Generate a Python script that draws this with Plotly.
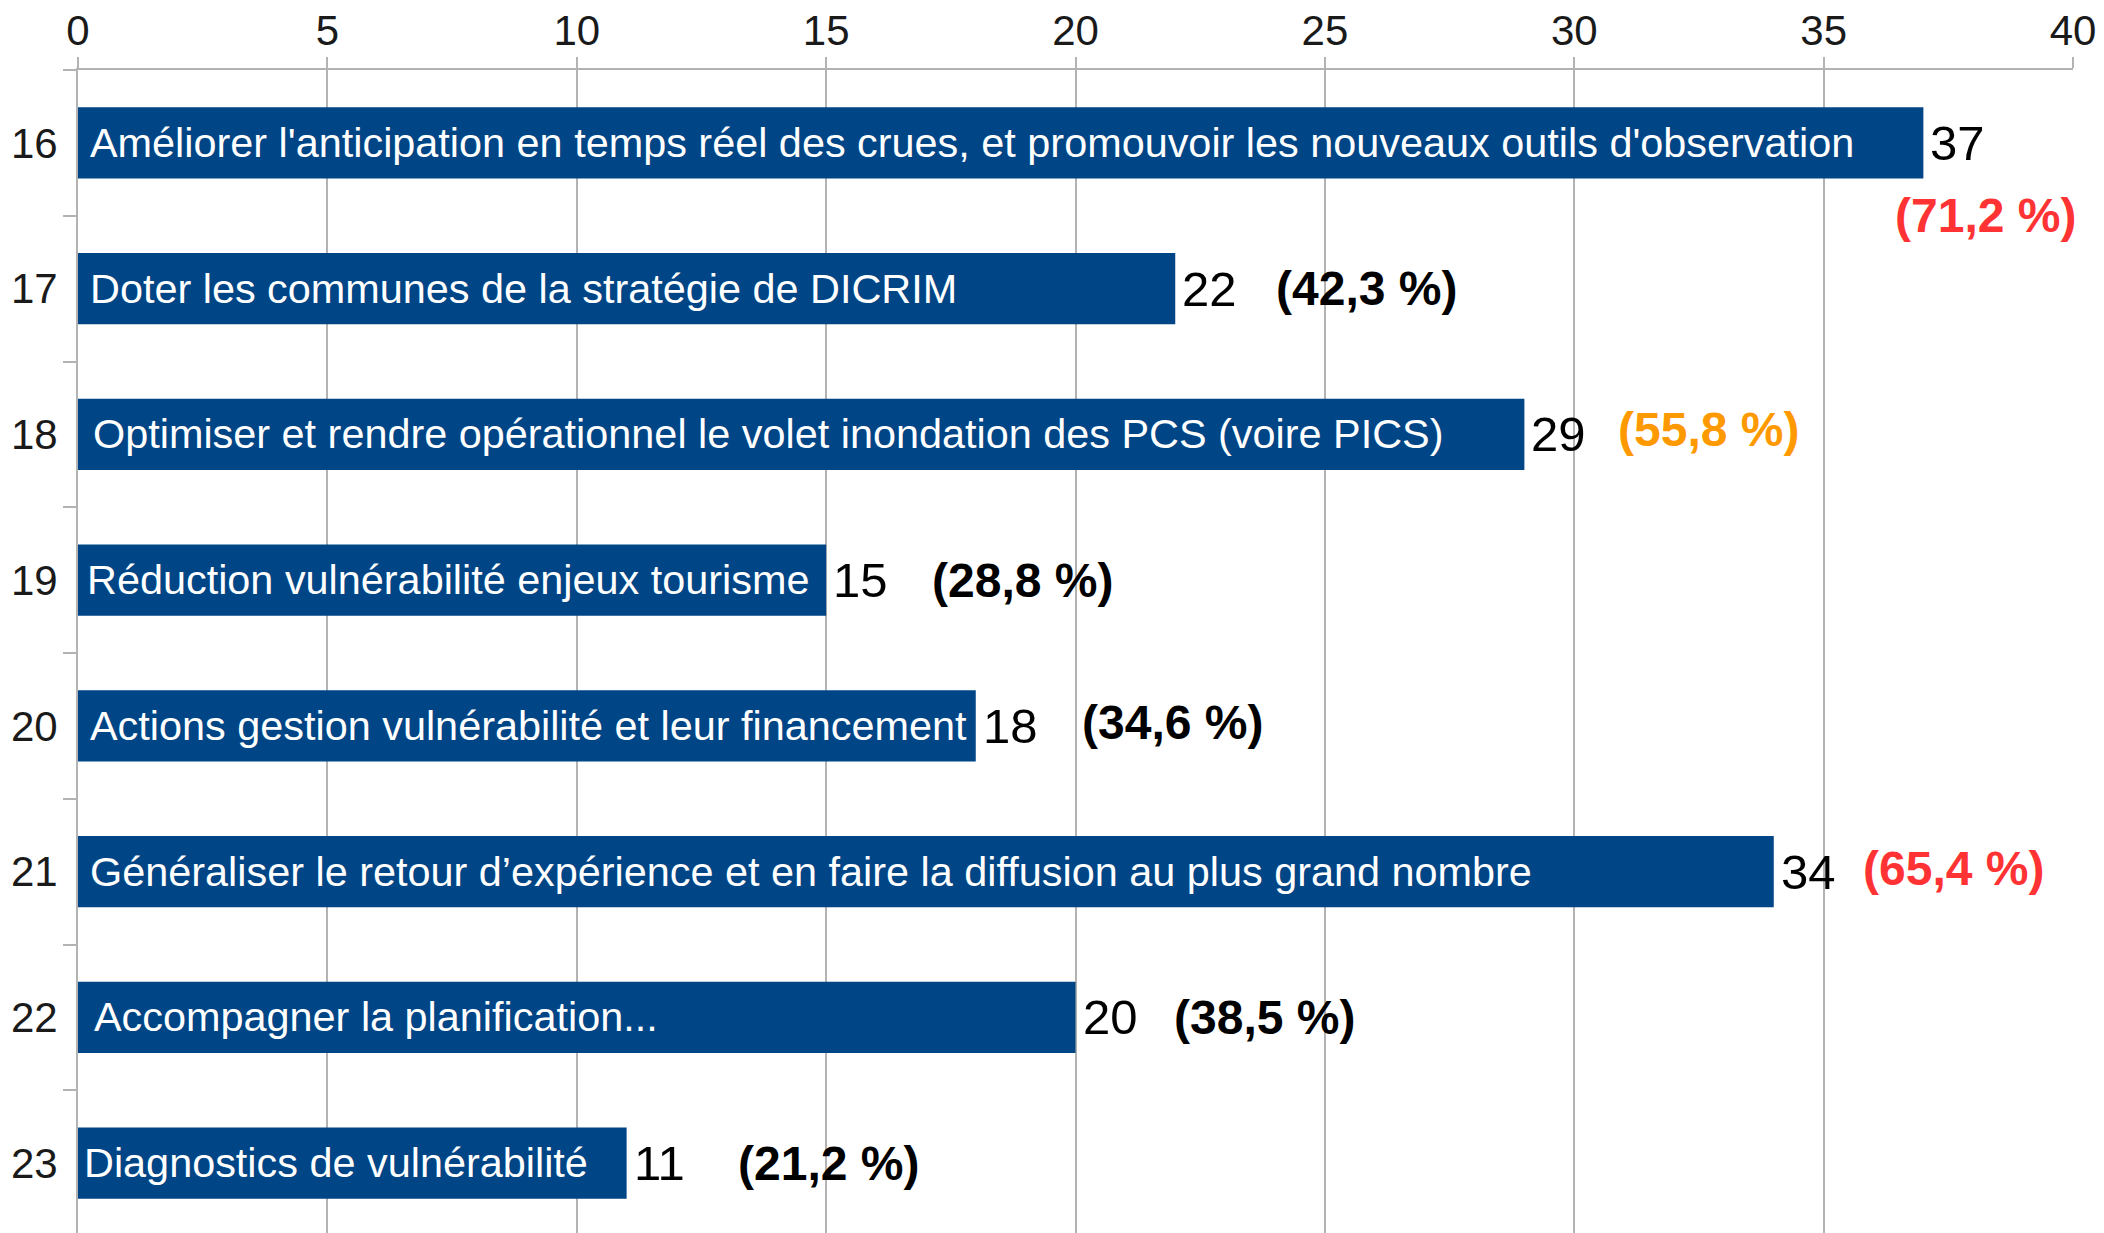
import plotly.graph_objects as go

# ---- data ----
categories = ["16", "17", "18", "19", "20", "21", "22", "23"]
bar_labels = [
    "Améliorer l'anticipation en temps réel des crues, et promouvoir les nouveaux outils d'observation",
    "Doter les communes de la stratégie de DICRIM",
    "Optimiser et rendre opérationnel le volet inondation des PCS (voire PICS)",
    "Réduction vulnérabilité enjeux tourisme",
    "Actions gestion vulnérabilité et leur financement",
    "Généraliser le retour d’expérience et en faire la diffusion au plus grand nombre",
    "Accompagner la planification...",
    "Diagnostics de vulnérabilité",
]
values = [37, 22, 29, 15, 18, 34, 20, 11]
pct_labels = ["(71,2 %)", "(42,3 %)", "(55,8 %)", "(28,8 %)", "(34,6 %)", "(65,4 %)", "(38,5 %)", "(21,2 %)"]
x_ticks = [0, 5, 10, 15, 20, 25, 30, 35, 40]

# ---- styling / placement ----
BAR_COLOR = "#004586"
GRID = "#b3b3b3"
FONT = "Liberation Sans"
pct_colors = ["#ff3333", "#000000", "#ff9900", "#000000", "#000000", "#ff3333", "#000000", "#000000"]
# pixel offsets of percentage boxes relative to bar ends (manually placed in source)
pct_xshift = [-30, 99, 92, 104, 104, 87, 96, 109]
pct_yshift = [-73, 0, 5, 0, 3, 3, 0, 0]
label_xshift = [10, 10, 13, 7, 10, 10, 14, 4]

fig = go.Figure()
fig.add_trace(go.Bar(
    x=values, y=categories, orientation="h",
    marker=dict(color=BAR_COLOR, line=dict(width=0)),
    hoverinfo="skip",
))

ann = []
for i, cat in enumerate(categories):
    # numeric category index on the category axis
    ann.append(dict(x=0, y=i, xref="x", yref="y", text=bar_labels[i], showarrow=False,
                    xanchor="left", yanchor="middle", xshift=label_xshift[i],
                    font=dict(family=FONT, size=41.4, color="white")))
    ann.append(dict(x=values[i], y=i, xref="x", yref="y", text=str(values[i]), showarrow=False,
                    xanchor="left", yanchor="middle", xshift=5,
                    font=dict(family=FONT, size=49, color="black")))
    ann.append(dict(x=values[i], y=i, xref="x", yref="y", text="<b>" + pct_labels[i] + "</b>",
                    showarrow=False, xanchor="left", yanchor="middle",
                    xshift=pct_xshift[i], yshift=pct_yshift[i],
                    font=dict(family=FONT, size=48, color=pct_colors[i])))

fig.update_layout(
    width=2104, height=1233,
    margin=dict(l=70, r=39, t=62, b=5, autoexpand=False),
    paper_bgcolor="white", plot_bgcolor="white",
    bargap=0.51,
    showlegend=False,
    annotations=ann,
    font=dict(family=FONT, color="#1a1a1a"),
)
fig.update_xaxes(
    side="top", range=[0, 40], tickvals=x_ticks, ticktext=[str(t) for t in x_ticks],
    showgrid=True, gridcolor=GRID, gridwidth=2,
    ticks="outside", ticklen=11, tickcolor=GRID, tickwidth=2,
    showline=True, linecolor=GRID, linewidth=2, zeroline=False,
    tickfont=dict(family=FONT, size=42, color="#1a1a1a"),
    ticklabelstandoff=-5,
    automargin=False,
)
fig.update_yaxes(
    type="category",
    categoryorder="array", categoryarray=categories, range=[7.5, -0.5],
    showgrid=False, showline=True, linecolor=GRID, linewidth=2,
    ticks="outside", tickson="boundaries", ticklen=13, tickcolor=GRID, tickwidth=2,
    tickfont=dict(family=FONT, size=42, color="#1a1a1a"),
    ticklabelstandoff=10,
    zeroline=False, automargin=False,
)

fig.write_html("out.html")
